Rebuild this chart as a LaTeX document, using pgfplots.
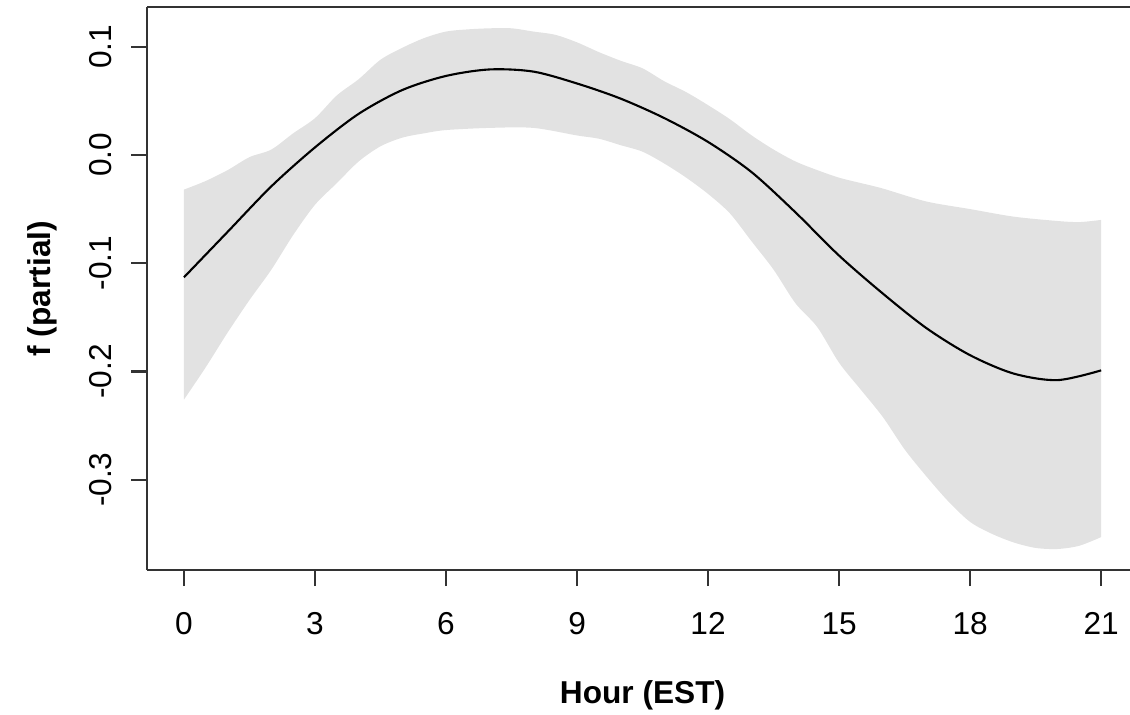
\documentclass[border=0pt]{standalone}
\usepackage{fontspec}
\setmainfont{Liberation Sans}
\usepackage{pgfplots}
\pgfplotsset{compat=1.18}
\usepgfplotslibrary{fillbetween}
\definecolor{band}{HTML}{E2E2E2}
\definecolor{frame}{HTML}{333333}

\begin{document}
\begin{tikzpicture}
\begin{axis}[
scale only axis,width=98.27mm,height=56.27mm,
xmin=-0.84,xmax=21.66,ymin=-0.3834,ymax=0.1364,
axis x line=box,axis y line=left,
axis line style={-,line width=0.6pt,frame},
tick pos=left,tick align=outside,major tick length=1.6mm,
tick style={line width=0.6pt,frame},
xtick={0,3,6,9,12,15,18,21},xticklabels={0,3,6,9,12,15,18,21},
ytick={-0.3,-0.2,-0.1,0,0.1},yticklabels={-0.3,-0.2,-0.1,0.0,0.1},
font=\fontsize{9}{11}\selectfont,
xticklabel style={anchor=north,inner ysep=2.6mm},
yticklabel style={rotate=90,anchor=south,inner ysep=1.9mm},
xlabel={\bfseries Hour (EST)},ylabel={\bfseries f (partial)},
xlabel style={at={(axis description cs:0.504,-0.222)},anchor=center},
ylabel style={at={(axis description cs:-0.107,0.5)},anchor=center},
]
\addplot[name path=up,draw=none,smooth,tension=0.5] coordinates {
(0,-0.032) (0.5,-0.024) (1,-0.014) (1.5,-0.002) (2,0.005) (2.5,0.020) (3,0.034)
(3.5,0.055) (4,0.070) (4.5,0.088) (5,0.099) (5.5,0.108) (6,0.114) (6.5,0.116)
(7,0.117) (7.5,0.117) (8,0.114) (8.5,0.111) (9,0.104) (9.5,0.095) (10,0.087)
(10.5,0.080) (11,0.068) (11.5,0.058) (12,0.046) (12.5,0.033) (13,0.018) (13.5,0.005)
(14,-0.006) (14.5,-0.014) (15,-0.021) (15.5,-0.026) (16,-0.031) (17,-0.043)
(18,-0.050) (19,-0.057) (20,-0.061) (20.5,-0.062) (21,-0.060)};
\addplot[name path=lo,draw=none,smooth,tension=0.5] coordinates {
(0,-0.226) (0.5,-0.196) (1,-0.164) (1.5,-0.134) (2,-0.106) (2.5,-0.074) (3,-0.046)
(3.5,-0.026) (4,-0.006) (4.5,0.008) (5,0.016) (5.5,0.020) (6,0.023) (7,0.025)
(8,0.025) (9,0.018) (9.5,0.015) (10,0.009) (10.5,0.003) (11,-0.008) (11.5,-0.021)
(12,-0.036) (12.5,-0.054) (13,-0.080) (13.5,-0.106) (14,-0.137) (14.5,-0.159)
(15,-0.192) (15.5,-0.217) (16,-0.242) (16.5,-0.272) (17,-0.297) (17.5,-0.320)
(18,-0.339) (18.5,-0.350) (19,-0.358) (19.5,-0.363) (20,-0.364) (20.5,-0.361) (21,-0.353)};
\addplot[band,draw=none] fill between[of=up and lo];
\addplot[black,line width=0.6pt,smooth,tension=0.5] coordinates {
(0,-0.113) (1,-0.071) (2,-0.029) (3,0.007) (4,0.038) (5,0.060) (6,0.073) (7,0.079)
(8,0.077) (9,0.066) (10,0.052) (11,0.034) (12,0.012) (13,-0.016) (14,-0.053)
(15,-0.093) (16,-0.128) (17,-0.160) (18,-0.185) (19,-0.202) (20,-0.208) (21,-0.199)};
\end{axis}
\pgfresetboundingbox
\path[use as bounding box] ([xshift=-14.73mm,yshift=-14.5mm]current axis.south west)
  rectangle ([yshift=0.73mm]current axis.north east);
\end{tikzpicture}
\end{document}
